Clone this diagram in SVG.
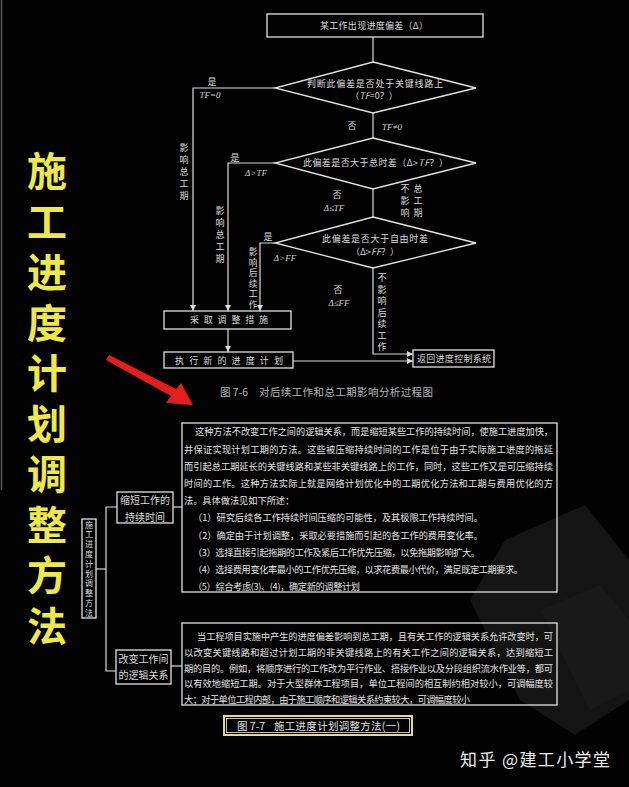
<svg xmlns="http://www.w3.org/2000/svg" width="629" height="787" viewBox="0 0 629 787">
<defs>
<style>
.ln{fill:none;stroke:#dcdcdc;stroke-width:1.2}
.bx{fill:none;stroke:#e2e2e2;stroke-width:1.3}
.t{font-family:"Noto Sans CJK SC","Noto Sans",sans-serif;font-size:9px;fill:#dadada}
.ti{font-family:"Liberation Serif","Noto Sans CJK SC",serif;font-size:9px;fill:#d0d0d0;font-style:italic}
.b{font-family:"Noto Sans CJK SC","Noto Sans",sans-serif;font-size:9.2px;fill:#e4e4e4}
.big{font-family:"Noto Sans CJK SC",sans-serif;font-size:40px;font-weight:700;fill:#eee84c;writing-mode:vertical-rl;letter-spacing:10.5px}
.m{text-anchor:middle}
</style>
<marker id="ah" markerWidth="6" markerHeight="6" refX="6" refY="3" orient="auto" markerUnits="userSpaceOnUse">
<path d="M0,0 L6,3 L0,6 z" fill="#dcdcdc"/>
</marker>
</defs>
<rect width="629" height="787" fill="#020202"/>
<line x1="1.5" y1="0" x2="1.5" y2="490" stroke="#5a5a5a" stroke-width="1.5"/>

<!-- watermark -->
<g id="watermark" opacity="0.5">
<path d="M505,540 L585,505 L629,560 L629,700 L575,735 L520,700 L470,600 Z" fill="#262626"/>
<path d="M540,610 L600,585 L629,620 L629,690 L590,710 Z" fill="#303030"/>
</g>

<!-- Title -->
<g id="title">
<text class="big" x="47" y="151">施工进度计划调整方法</text>
</g>

<!-- Red arrow -->
<g id="red-arrow">
<polygon points="109,355 176,389 181,383 193,405 166,403 171,396 106,360" fill="#e41e1e"/>
</g>

<!-- Flowchart connectors -->
<g id="connectors">
<line class="ln" x1="373" y1="37" x2="373" y2="62"/>
<polyline class="ln" points="275,88 193,88 193,311" marker-end="url(#ah)"/>
<line class="ln" x1="373" y1="113" x2="373" y2="138"/>
<polyline class="ln" points="275,163 228,163 228,311" marker-end="url(#ah)"/>
<line class="ln" x1="373" y1="189" x2="373" y2="217"/>
<polyline class="ln" points="275,243 260,243 260,311" marker-end="url(#ah)"/>
<polyline class="ln" points="373,268 373,354 413,354" marker-end="url(#ah)"/>
<line class="ln" x1="228" y1="329" x2="228" y2="352" marker-end="url(#ah)"/>
<line class="ln" x1="293" y1="361" x2="413" y2="361" marker-end="url(#ah)"/>
<!-- lower tree -->
<line class="ln" x1="96" y1="569" x2="106" y2="569"/>
<polyline class="ln" points="117,507 106,507 106,671 116,671"/>
<line class="ln" x1="173" y1="507" x2="182" y2="507"/>
<line class="ln" x1="171" y1="666" x2="182" y2="666"/>
</g>

<!-- Flowchart labels -->
<g id="edge-labels">
<text class="t m" x="212" y="85">是</text>
<text class="ti m" x="210" y="98">TF=0</text>
<text class="t m" x="352" y="129">否</text>
<text class="ti m" x="392" y="130">TF≠0</text>
<text class="t m" x="235" y="161">是</text>
<text class="ti m" x="256" y="176">Δ&gt;TF</text>
<text class="t m" x="337" y="198">否</text>
<text class="ti m" x="334" y="211">Δ≤TF</text>
<text class="t m" x="268" y="240">是</text>
<text class="ti m" x="285" y="261">Δ&gt;FF</text>
<text class="t m" x="338" y="293">否</text>
<text class="ti m" x="339" y="306">Δ≤FF</text>
<text class="t m" x="184"><tspan x="184" y="151">影</tspan><tspan x="184" y="163">响</tspan><tspan x="184" y="175">总</tspan><tspan x="184" y="187">工</tspan><tspan x="184" y="199">期</tspan></text>
<text class="t m" x="220"><tspan x="220" y="214">影</tspan><tspan x="220" y="226">响</tspan><tspan x="220" y="238">总</tspan><tspan x="220" y="250">工</tspan><tspan x="220" y="262">期</tspan></text>
<text class="t m" x="253" style="font-size:8.6px"><tspan x="253" y="255">影</tspan><tspan x="253" y="265.5">响</tspan><tspan x="253" y="276">后</tspan><tspan x="253" y="286.5">续</tspan><tspan x="253" y="297">工</tspan><tspan x="253" y="307.5">作</tspan></text>
<text class="t m" x="382"><tspan x="382" y="281">不</tspan><tspan x="382" y="292.5">影</tspan><tspan x="382" y="304">响</tspan><tspan x="382" y="315.5">后</tspan><tspan x="382" y="327">续</tspan><tspan x="382" y="338.5">工</tspan><tspan x="382" y="350">作</tspan></text>
<text class="t m" x="405"><tspan x="405" y="192">不</tspan><tspan x="405" y="204">影</tspan><tspan x="405" y="216">响</tspan></text>
<text class="t m" x="418"><tspan x="418" y="192">总</tspan><tspan x="418" y="204">工</tspan><tspan x="418" y="216">期</tspan></text>
</g>

<!-- Flowchart nodes -->
<g id="n-start">
<rect class="bx" x="267" y="14" width="216" height="23"/>
<text class="t" x="320" y="29" textLength="108">某工作出现进度偏差（Δ）</text>
</g>
<g id="n-d1">
<polygon class="bx" points="373,62 476,88 373,113 275,88"/>
<text class="t" x="307" y="87" textLength="136">判断此偏差是否处于关键线路上</text>
<text class="t m" x="374" y="99">（<tspan font-style="italic">TF</tspan>=0？）</text>
</g>
<g id="n-d2">
<polygon class="bx" points="373,138 476,163 373,189 275,163"/>
<text class="t" x="303" y="166" textLength="145">此偏差是否大于总时差（Δ&gt;<tspan font-style="italic">TF</tspan>？）</text>
</g>
<g id="n-d3">
<polygon class="bx" points="373,217 476,243 373,268 275,243"/>
<text class="t" x="322" y="242" textLength="106">此偏差是否大于自由时差</text>
<text class="t m" x="375" y="255">（Δ&gt;<tspan font-style="italic">FF</tspan>？）</text>
</g>
<g id="n-adjust">
<rect class="bx" x="164" y="311" width="127" height="18"/>
<text class="t" x="190" y="323" textLength="78">采取调整措施</text>
</g>
<g id="n-exec">
<rect class="bx" x="164" y="352" width="129" height="16"/>
<text class="t" x="175" y="363.5" textLength="108">执行新的进度计划</text>
</g>
<g id="n-return">
<rect class="bx" x="413" y="350" width="81" height="17"/>
<text class="t" x="417" y="361.5" textLength="74">返回进度控制系统</text>
</g>
<g id="caption-76">
<text class="t" x="220" y="396" style="font-size:10.5px;fill:#b8b8b8">图 7-6</text>
<text class="t" x="259" y="396" textLength="174" style="font-size:10.5px;fill:#b8b8b8">对后续工作和总工期影响分析过程图</text>
</g>

<!-- Lower tree nodes -->
<g id="n-root">
<rect class="bx" x="82" y="519" width="14" height="99"/>
<text class="t m" style="font-size:8px"><tspan x="89" y="527.5">施</tspan><tspan x="89" y="537.3">工</tspan><tspan x="89" y="547.1">进</tspan><tspan x="89" y="556.9">度</tspan><tspan x="89" y="566.7">计</tspan><tspan x="89" y="576.5">划</tspan><tspan x="89" y="586.3">调</tspan><tspan x="89" y="596.1">整</tspan><tspan x="89" y="605.9">方</tspan><tspan x="89" y="615.7">法</tspan></text>
</g>
<g id="n-shorten">
<rect class="bx" x="117" y="492" width="56" height="31"/>
<text class="t m" x="145" y="503.5" style="font-size:10px">缩短工作的</text>
<text class="t m" x="145" y="520.5" style="font-size:10px">持续时间</text>
</g>
<g id="n-logic">
<rect class="bx" x="116" y="650" width="55" height="34"/>
<text class="t m" x="143.5" y="663" style="font-size:10px">改变工作间</text>
<text class="t m" x="143.5" y="679" style="font-size:10px">的逻辑关系</text>
</g>
<g id="n-text1">
<rect class="bx" x="182" y="423" width="375" height="169"/>
<text class="b" x="195" y="435.3" textLength="358">这种方法不改变工作之间的逻辑关系，而是缩短某些工作的持续时间，使施工进度加快，</text>
<text class="b" x="184" y="452.5" textLength="369">并保证实现计划工期的方法。这些被压缩持续时间的工作是位于由于实际施工进度的拖延</text>
<text class="b" x="184" y="469.7" textLength="369">而引起总工期延长的关键线路和某些非关键线路上的工作，同时，这些工作又是可压缩持续</text>
<text class="b" x="184" y="487" textLength="369">时间的工作。这种方法实际上就是网络计划优化中的工期优化方法和工期与费用优化的方</text>
<text class="b" x="184" y="504.2">法。具体做法见如下所述：</text>
<text class="b" x="193" y="521.4" textLength="290">（1）研究后续各工作持续时间压缩的可能性，及其极限工作持续时间。</text>
<text class="b" x="193" y="538.6" textLength="290">（2）确定由于计划调整，采取必要措施而引起的各工作的费用变化率。</text>
<text class="b" x="193" y="555.9" textLength="287">（3）选择直接引起拖期的工作及紧后工作优先压缩，以免拖期影响扩大。</text>
<text class="b" x="193" y="573.1" textLength="330">（4）选择费用变化率最小的工作优先压缩，以求花费最小代价，满足既定工期要求。</text>
<text class="b" x="193" y="590.3" textLength="167">（5）综合考虑(3)、(4)，确定新的调整计划</text>
</g>
<g id="n-text2">
<rect class="bx" x="182" y="623" width="375" height="82"/>
<text class="b" x="197" y="640.3" textLength="356">当工程项目实施中产生的进度偏差影响到总工期，且有关工作的逻辑关系允许改变时，可</text>
<text class="b" x="184" y="656.3" textLength="369">以改变关键线路和超过计划工期的非关键线路上的有关工作之间的逻辑关系，达到缩短工</text>
<text class="b" x="184" y="671.8" textLength="369">期的目的。例如，将顺序进行的工作改为平行作业、搭接作业以及分段组织流水作业等，都可</text>
<text class="b" x="184" y="687.3" textLength="369">以有效地缩短工期。对于大型群体工程项目，单位工程间的相互制约相对较小，可调幅度较</text>
<text class="b" x="184" y="703" textLength="286">大；对于单位工程内部，由于施工顺序和逻辑关系约束较大，可调幅度较小</text>
</g>
<g id="caption-77">
<rect x="224" y="716" width="188" height="19" fill="none" stroke="#e2d98a" stroke-width="2"/>
<rect x="226.5" y="718.5" width="183" height="14" fill="none" stroke="#f2f2f2" stroke-width="0.8"/>
<text class="t" x="237" y="730" style="font-size:10.5px;fill:#e0e0e0">图 7-7</text>
<text class="t" x="274" y="730" textLength="126" style="font-size:10.5px;fill:#e0e0e0">施工进度计划调整方法(一)</text>
</g>

<!-- Credit -->
<g id="credit">
<text x="460" y="766" style="font-family:'Noto Sans CJK SC',sans-serif;font-size:17px;fill:#ececec" textLength="150">知乎 @建工小学堂</text>
</g>
</svg>
